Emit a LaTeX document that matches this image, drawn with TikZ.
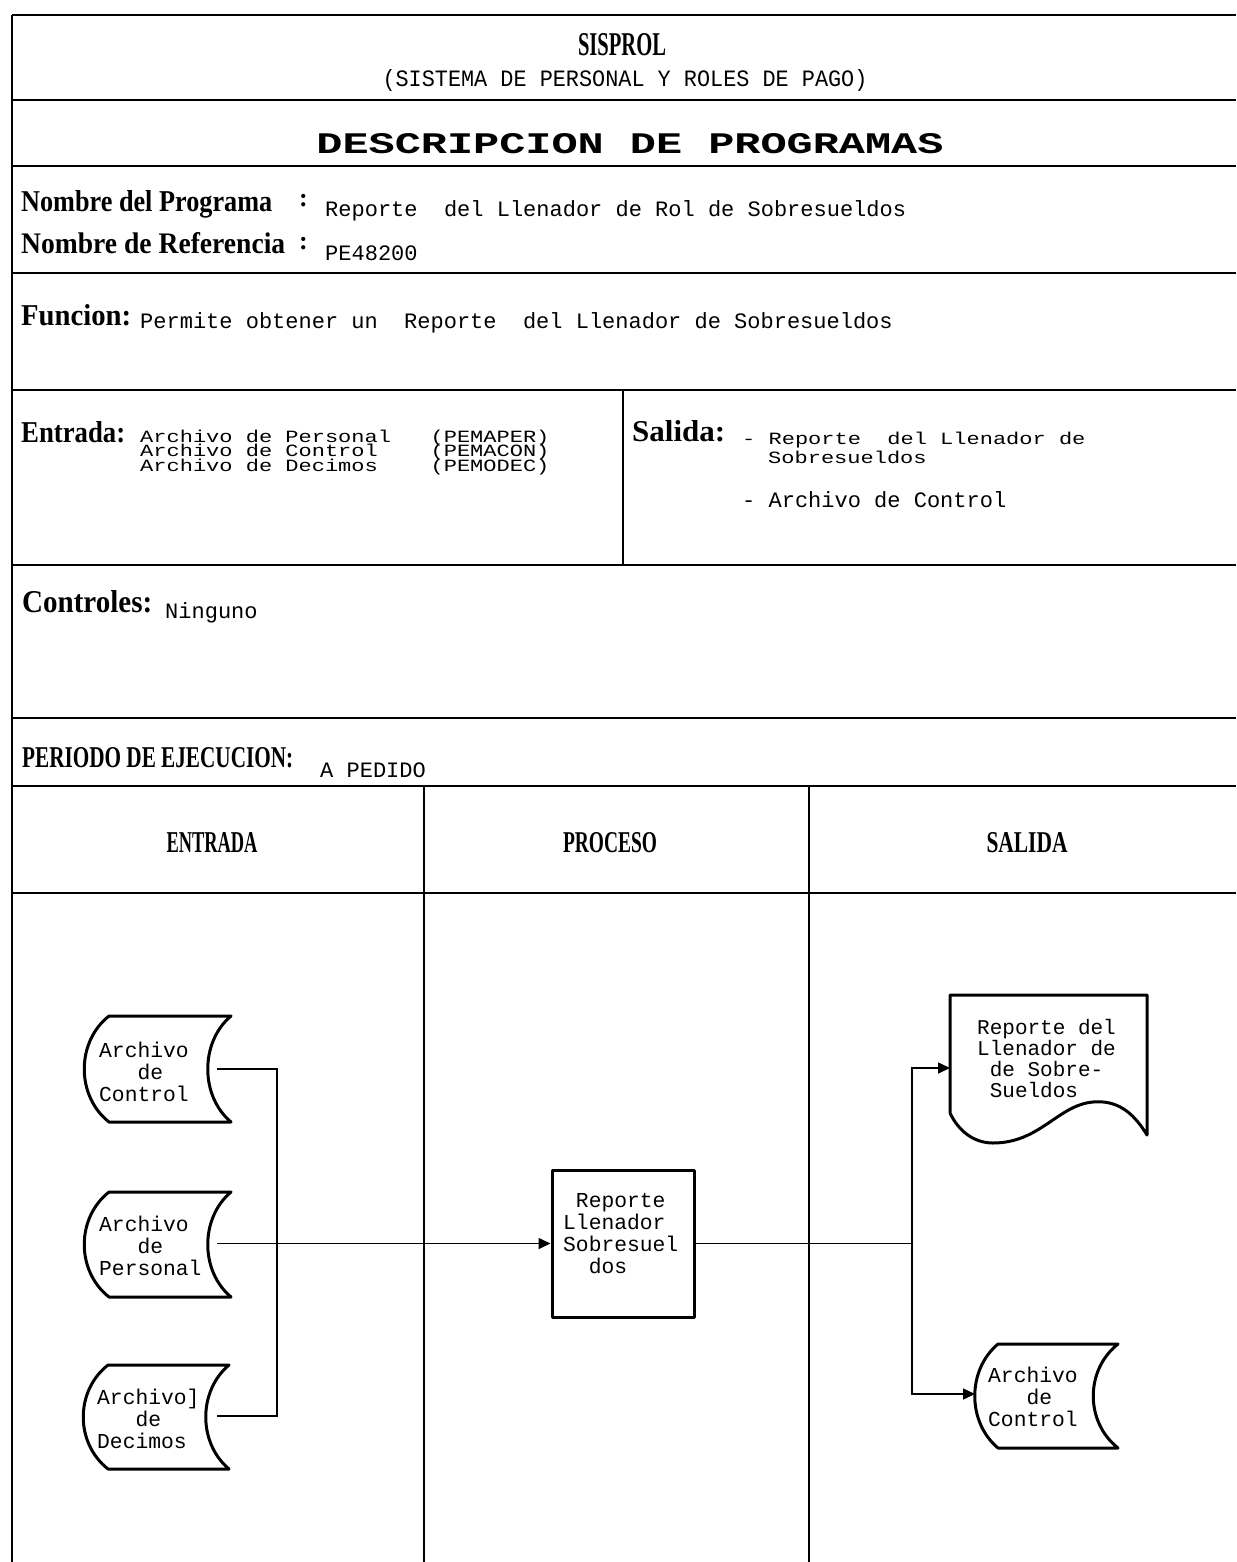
\documentclass[tikz,border=0pt]{standalone}
\usepackage{fontspec}
\usepackage{graphicx}
\setmainfont{Liberation Serif}
\newfontfamily\mono{Liberation Mono}
\usetikzlibrary{arrows.meta}
\newcommand{\hd}[3]{\resizebox{#1pt}{#2pt}{\bfseries #3}}
\newcommand{\sq}[1]{\scalebox{1}[0.78]{#1}}
\tikzset{
  frame/.style={line width=2pt},
  conn/.style={line width=1.6pt},
  shp/.style={line width=3pt, line join=round},
  arr/.style={conn, -{Triangle[length=12pt,width=11pt]}},
  hdt/.style={inner sep=0pt, anchor=base west},
  hdc/.style={inner sep=0pt, anchor=base},
  txt/.style={inner sep=0pt, anchor=base west, font=\mono\fontsize{22}{14.5}\selectfont},
  stxt/.style={inner sep=0pt, anchor=west, align=left, font=\mono\fontsize{21.3}{22}\selectfont},
  colon/.style={inner sep=0pt, anchor=base west, font=\bfseries\fontsize{26}{26}\selectfont}
}
\begin{document}
\begin{tikzpicture}[x=1pt,y=-1pt]
\useasboundingbox (0,0) rectangle (1236,1562);
\fill[white] (0,0) rectangle (1236,1562);

% ---------- frame ----------
\draw[frame] (12,15) -- (1236,15);
\draw[frame] (12,100) -- (1236,100);
\draw[frame] (12,166) -- (1236,166);
\draw[frame] (12,273) -- (1236,273);
\draw[frame] (12,390) -- (1236,390);
\draw[frame] (12,565) -- (1236,565);
\draw[frame] (12,718) -- (1236,718);
\draw[frame] (12,786) -- (1236,786);
\draw[frame] (12,893) -- (1236,893);
\draw[frame] (12,15) -- (12,1562);
\draw[frame] (623,390) -- (623,565);
\draw[frame] (424,786) -- (424,1562);
\draw[frame] (809,786) -- (809,1562);

% ---------- title ----------
\node[hdc] (t1) at (622,56) {\hd{88}{22}{SISPROL}};
\node[hdc] (t2) at (625,87) {\resizebox{485pt}{17pt}{\mono (SISTEMA DE PERSONAL Y ROLES DE PAGO)}};
\node[hdc] (t3) at (630,154) {\resizebox{627pt}{20pt}{\mono\bfseries DESCRIPCION DE PROGRAMAS}};

% ---------- program data ----------
\node[hdt] (n1) at (21,212) {\hd{251}{21}{Nombre del Programa}};
\node[colon] (c1) at (299,207) {:};
\node[txt] (v1) at (325,217) {Reporte~~del Llenador de Rol de Sobresueldos};
\node[hdt] (n2) at (21,254) {\hd{264}{21}{Nombre de Referencia}};
\node[colon] (c2) at (299,250) {:};
\node[txt] (v2) at (325,261) {PE48200};

\node[hdt] (fu) at (21,325) {\hd{110}{21}{Funcion:}};
\node[txt] (v3) at (140,328) {Permite obtener un~~Reporte~~del Llenador de Sobresueldos};

\node[hdt] (en) at (21,442) {\hd{104}{21}{Entrada:}};
\node[txt] (e1) at (140,442) {\sq{Archivo de Personal~~~(PEMAPER)}};
\node[txt] (e2) at (140,456.5) {\sq{Archivo de Control~~~~(PEMACON)}};
\node[txt] (e3) at (140,471) {\sq{Archivo de Decimos~~~~(PEMODEC)}};

\node[hdt] (sa) at (632,441) {\hd{93}{21}{Salida:}};
\node[txt] (s1) at (742,444) {\sq{-~Reporte~~del Llenador de}};
\node[txt] (s2) at (768,463) {\sq{Sobresueldos}};
\node[txt] (s3) at (742,507) {-~Archivo de Control};

\node[hdt] (co) at (22,612) {\hd{130}{22}{Controles:}};
\node[txt] (nin) at (165,618) {Ninguno};

\node[hdt] (pe) at (22,767) {\hd{271}{20}{PERIODO DE EJECUCION:}};
\node[txt] (ap) at (320,777) {A PEDIDO};

% ---------- column headers ----------
\node[hdc] (h1) at (212,852) {\hd{91}{20}{ENTRADA}};
\node[hdc] (h2) at (610,852) {\hd{94}{20}{PROCESO}};
\node[hdc] (h3) at (1027,852) {\hd{81}{20}{SALIDA}};

% ---------- input files ----------
\draw[shp] (109,1016) -- (231,1016) .. controls (200,1042) and (200,1096) .. (231,1122)
  -- (109,1122) .. controls (76,1096) and (76,1042) .. (109,1016) -- cycle;
\node[stxt] (ac) at (99,1072) {Archivo\\\phantom{xxx}de\\Control};

\draw[shp] (109,1192) -- (231,1192) .. controls (200,1218) and (200,1271) .. (231,1297)
  -- (109,1297) .. controls (76,1271) and (76,1218) .. (109,1192) -- cycle;
\node[stxt] (ap2) at (99,1246) {Archivo\\\phantom{xxx}de\\Personal};

\draw[shp] (108,1365) -- (229,1365) .. controls (198,1391) and (198,1443) .. (229,1469)
  -- (108,1469) .. controls (75,1443) and (75,1391) .. (108,1365) -- cycle;
\node[stxt] (ad) at (97,1419) {Archivo]\\\phantom{xxx}de\\Decimos};

% ---------- process ----------
\node[draw, shp, minimum width=142pt, minimum height=147pt, inner sep=0pt] (proc) at (623,1243.5) {};
\node[stxt] (pt) at (563,1234) {\phantom{x}Reporte\\Llenador\\Sobresuel\\\phantom{xx}dos};

% ---------- outputs ----------
\draw[shp] (950,1113) -- (950,995) -- (1147,995) -- (1147,1135)
  .. controls (1132,1110) and (1115,1100) .. (1093,1102)
  .. controls (1058,1105) and (1040,1143) .. (993,1143)
  .. controls (973,1143) and (958,1130) .. (950,1113);
\node[stxt, font=\mono\fontsize{21}{21}\selectfont] (dt) at (977,1059) {Reporte del\\Llenador de\\\phantom{x}de Sobre-\\\phantom{x}Sueldos};

\draw[shp] (998,1344) -- (1118,1344) .. controls (1085,1370) and (1085,1422) .. (1118,1448)
  -- (998,1448) .. controls (967,1422) and (967,1370) .. (998,1344) -- cycle;
\node[stxt] (rc) at (988,1397) {Archivo\\\phantom{xxx}de\\Control};

% ---------- connectors ----------
\coordinate (ctlL) at (217,1069);
\coordinate (perL) at (217,1243.5);
\coordinate (decL) at (217,1416);
\coordinate (jM) at (277,1243.5);
\coordinate (jR) at (912,1243.5);
\coordinate (docW) at (950,1068);
\coordinate (arcW) at (975,1394);
\draw[conn] (ctlL) -| (jM) |- (decL);
\draw[arr] (perL) -- (proc.west);
\draw[conn] (proc.east) -- (jR);
\draw[arr] (jR) |- (docW);
\draw[arr] (jR) |- (arcW);
\end{tikzpicture}
\end{document}
